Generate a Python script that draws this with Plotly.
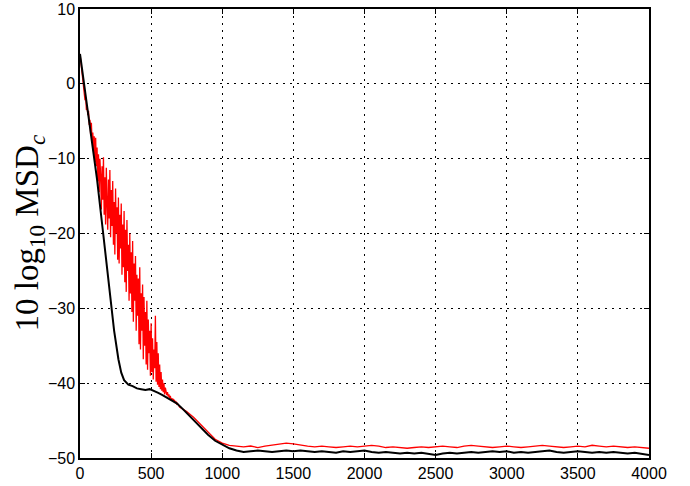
import plotly.graph_objects as go

# ---- data ----
# red curve, dense part: iterations 0..700 every 5
red_x_dense = list(range(0, 705, 5))
red_y_dense = [
    4.0, 3.2, 2.0, 1.5, 0.2, -0.5, -1.0, -2.2, -1.8, -3.5, -3.0,
    -4.2, -3.6, -5.5, -4.8, -6.9, -5.2, -7.8, -6.5, -9.0, -7.0,
    -10.5, -7.2, -11.0, -8.5, -13.0, -9.4, -14.5, -10.0, -12.2, -16.8,
    -11.0, -15.5, -9.8, -17.5, -12.5, -18.8, -11.2, -16.0, -19.5, -12.8,
    -18.0, -11.5, -20.5, -14.2, -19.0, -13.0, -21.5, -15.8, -22.8, -14.0,
    -20.0, -16.5, -23.5, -15.2, -24.0, -17.5, -22.0, -16.0, -25.5, -18.8,
    -24.5, -17.0, -26.5, -19.5, -27.8, -18.2, -25.0, -21.5, -29.0, -20.0,
    -28.0, -22.5, -30.5, -21.0, -31.8, -24.0, -29.0, -23.0, -33.0, -25.5,
    -31.0, -26.0, -34.8, -24.5, -35.5, -28.0, -33.0, -26.8, -36.8, -28.5,
    -35.0, -30.5, -37.5, -29.0, -38.2, -31.5, -36.0, -33.0, -39.0, -32.0,
    -38.5, -34.0, -39.5, -35.5, -38.0, -31.0, -39.8, -34.5, -40.2, -36.0,
    -40.5, -37.5, -40.8, -38.5, -41.0, -39.5, -41.2, -40.0, -41.5, -40.6,
    -41.0, -41.6, -41.2, -41.8, -41.5, -42.0, -41.7, -42.2, -42.0, -42.3,
    -42.1, -42.4, -42.3, -42.6, -42.5, -42.8, -42.7, -43.0, -43.0, -43.2,
]
# red curve, tail: iterations 750..4000 every 50
red_x_tail = list(range(750, 4050, 50))
red_y_tail = [
    -43.8, -44.6, -45.6, -46.6, -47.5, -48.0, -48.3, -48.4, -48.5, -48.4,
    -48.6, -48.4, -48.3, -48.1, -48.0, -48.1, -48.3, -48.4, -48.5, -48.4,
    -48.5, -48.6, -48.5, -48.4, -48.5, -48.4, -48.3, -48.4, -48.6, -48.5,
    -48.6, -48.7, -48.6, -48.5, -48.6, -48.5, -48.4, -48.5, -48.6, -48.4,
    -48.3, -48.4, -48.5, -48.6, -48.5, -48.4, -48.5, -48.6, -48.5, -48.4,
    -48.3, -48.4, -48.5, -48.6, -48.5, -48.4, -48.5, -48.3, -48.4, -48.5,
    -48.4, -48.5, -48.6, -48.5, -48.6, -48.7,
]

# black curve
black_x = [0, 40, 80, 120, 160, 200, 240, 270, 290, 310, 340, 370, 400, 430,
           460, 490, 520, 550, 580, 610, 640, 680, 720, 760, 800, 850, 900,
           950, 1000, 1050, 1100, 1150, 1200, 1250, 1300, 1350, 1400, 1450,
           1500, 1550, 1600, 1650, 1700, 1750, 1800, 1850, 1900, 1950, 2000,
           2050, 2100, 2150, 2200, 2250, 2300, 2350, 2400, 2450, 2500, 2550,
           2600, 2650, 2700, 2750, 2800, 2850, 2900, 2950, 3000, 3050, 3100,
           3150, 3200, 3250, 3300, 3350, 3400, 3450, 3500, 3550, 3600, 3650,
           3700, 3750, 3800, 3850, 3900, 3950, 4000]
black_y = [4.0, -1.5, -6.6, -12.8, -19.5, -26.5, -33.0, -36.8, -38.6, -39.6,
           -40.2, -40.4, -40.7, -40.8, -40.9, -40.8, -41.0, -41.3, -41.6,
           -41.9, -42.3, -42.7, -43.4, -44.2, -44.9, -45.9, -46.9, -47.7,
           -48.2, -48.7, -49.0, -49.2, -49.1, -49.0, -49.1, -49.2, -49.1,
           -49.0, -49.1, -49.0, -49.1, -49.2, -49.1, -49.2, -49.3, -49.1,
           -49.2, -49.1, -49.0, -49.2, -49.3, -49.2, -49.3, -49.4, -49.3,
           -49.4, -49.3, -49.5, -49.6, -49.4, -49.3, -49.4, -49.3, -49.2,
           -49.3, -49.2, -49.1, -49.2, -49.1, -49.3, -49.2, -49.3, -49.2,
           -49.1, -49.0, -49.2, -49.3, -49.2, -49.1, -49.2, -49.3, -49.2,
           -49.3, -49.2, -49.3, -49.4, -49.3, -49.5, -49.6]

x_ticks = [0, 500, 1000, 1500, 2000, 2500, 3000, 3500, 4000]
y_ticks = [-50, -40, -30, -20, -10, 0, 10]
y_title = "10 log<sub>10</sub> MSD<sub><i>c</i></sub>"

fig = go.Figure()
fig.add_trace(go.Scatter(x=red_x_dense + red_x_tail, y=red_y_dense + red_y_tail,
                         mode="lines", line=dict(color="#ff0000", width=1.3),
                         showlegend=False))
fig.add_trace(go.Scatter(x=black_x, y=black_y, mode="lines",
                         line=dict(color="#000000", width=2),
                         showlegend=False))

axis_common = dict(
    showline=True, linecolor="black", linewidth=1.5, mirror="allticks",
    ticks="inside", ticklen=5, tickcolor="black", tickwidth=1,
    showgrid=True, gridcolor="black", gridwidth=1, griddash="2px,5px",
    zeroline=False, automargin=False,
    tickfont=dict(family="Liberation Sans, Arial, sans-serif", size=16, color="black"),
)

fig.update_xaxes(range=[0, 4000], tickvals=x_ticks, **axis_common)
fig.update_yaxes(range=[-50, 10], tickvals=y_ticks, **axis_common)

fig.add_annotation(
    text=y_title, textangle=-90, showarrow=False,
    xref="paper", yref="paper", x=-0.089, y=0.501,
    xanchor="center", yanchor="middle",
    font=dict(family="Liberation Serif, Times New Roman, serif", size=33, color="black"),
)

fig.update_layout(
    width=690, height=486,
    margin=dict(l=80, r=41, t=9, b=28),
    plot_bgcolor="white", paper_bgcolor="white",
)

fig.write_html("out.html", config={"displayModeBar": False},
               post_script="document.body.style.margin='0';")
